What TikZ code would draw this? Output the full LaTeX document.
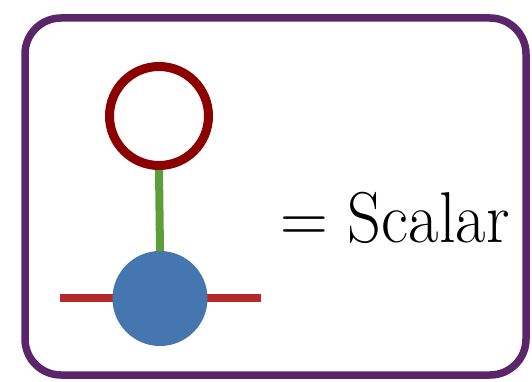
\documentclass[tikz,border=0pt]{standalone}
\usepackage{graphicx}
\definecolor{framepurple}{RGB}{91,38,105}
\definecolor{loopred}{RGB}{140,0,0}
\definecolor{legred}{RGB}{182,42,42}
\definecolor{propgreen}{RGB}{94,158,58}
\definecolor{vertexblue}{RGB}{70,118,176}
\begin{document}
\begin{tikzpicture}[
  x=1pt, y=-1pt,
  frame/.style={draw=framepurple, line width=7.5pt, rounded corners=36pt},
  loopc/.style={circle, draw=loopred, line width=9pt, minimum size=99pt, inner sep=0pt},
  vertex/.style={circle, fill=vertexblue, minimum size=95pt, inner sep=0pt, outer sep=0pt},
  prop/.style={draw=propgreen, line width=8pt},
  leg/.style={draw=legred, line width=8pt},
  label/.style={font=\fontsize{72}{86}\selectfont, inner sep=0pt, anchor=base west}
]
\useasboundingbox (0,0) rectangle (532,382);

% --- Frame ---
\draw[frame] (25,18) rectangle (526,375);

% --- External legs (behind the vertex) ---
\coordinate (legL) at (60,298);
\coordinate (legR) at (261,298);
\draw[leg] (legL) -- (legR);

% --- Loop and vertex ---
\node[loopc]  (loop) at (159,116) {};
\node[vertex] (vtx)  at (160,298.5) {};
\draw[prop] (loop.south) -- (vtx.north);

% --- Label ---
\node[label] (lbl) at (280,242) {\scalebox{0.92}[1]{= Scalar}};

\end{tikzpicture}
\end{document}
